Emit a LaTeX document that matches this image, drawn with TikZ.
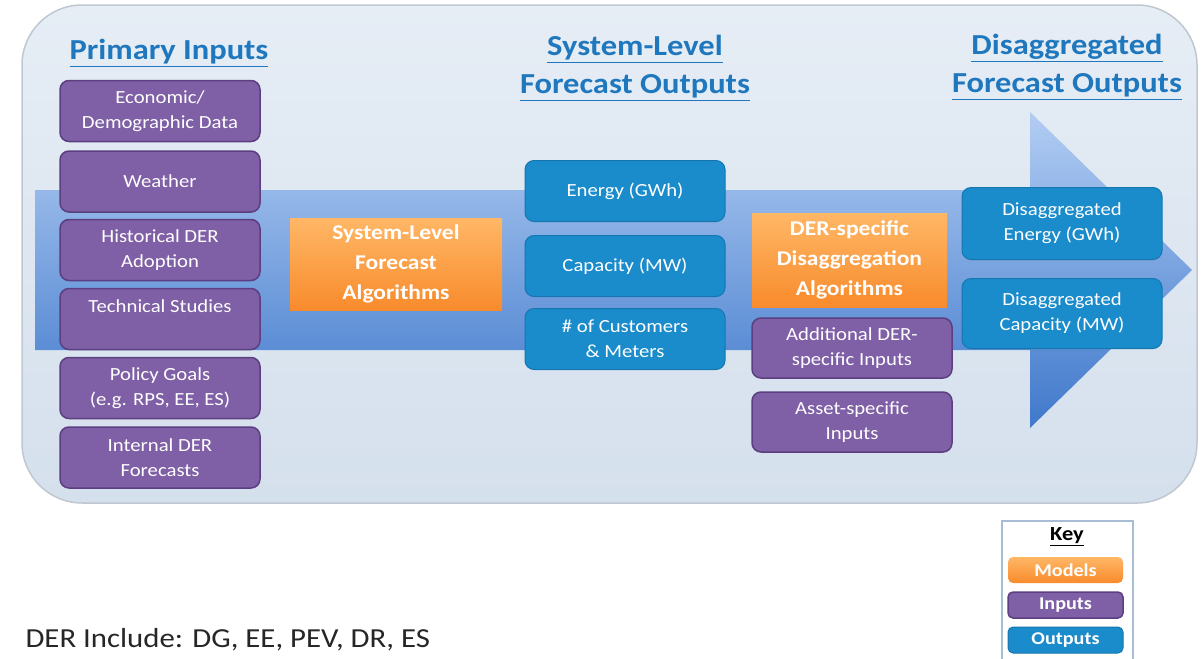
\documentclass[tikz,border=0pt]{standalone}
\usepackage{fontspec}
\setmainfont[FakeStretch=1.12]{Carlito}
\definecolor{titre}{HTML}{1F78BE}
\definecolor{fondclair}{HTML}{E6EDF5}
\definecolor{fondfonce}{HTML}{D5E0ED}
\definecolor{bordfond}{HTML}{BFC7D1}
\definecolor{flechehaut}{HTML}{B2CDF3}
\definecolor{flechebas}{HTML}{3F78CB}
\definecolor{violetfond}{HTML}{7F5FA5}
\definecolor{violetbord}{HTML}{5B3F80}
\definecolor{bleufond}{HTML}{1A8BCB}
\definecolor{bleubord}{HTML}{1677B0}
\definecolor{orangehaut}{HTML}{FFB766}
\definecolor{orangebas}{HTML}{F88B2C}
\definecolor{cadrecle}{HTML}{A9BCD6}

\begin{document}
\begin{tikzpicture}[x=1pt,y=-1pt]
\tikzstyle{titres}=[text=titre,align=center,font=\fontsize{29}{38}\selectfont\bfseries]
\tikzset{boite/.style={rounded corners=9pt,text=white,align=center,
  minimum width=200pt,minimum height=61pt,inner sep=2pt,
  font=\fontsize{18.5}{25}\selectfont},
entree/.style={boite,draw=violetbord,line width=1.5pt,fill=violetfond},
sortie/.style={boite,draw=bleubord,line width=1pt,fill=bleufond},
modele/.style={boite,rounded corners=0pt,top color=orangehaut,bottom color=orangebas,
  font=\fontsize{21}{30}\selectfont\bfseries},
cle/.style={rounded corners=5pt,text=white,minimum width=115pt,minimum height=26pt,
  inner sep=0pt,font=\fontsize{18}{20}\selectfont\bfseries,#1},
cle/.default={}}
\useasboundingbox (0,0) rectangle (1203,659);

% fond et grande fleche
\shade[top color=fondclair,bottom color=fondfonce,draw=bordfond,line width=1.5pt,
  rounded corners=60pt] (22,5) rectangle (1197,503);
\shade[top color=flechehaut,bottom color=flechebas] (35,190) -- (1030,190) -- (1030,112)
  -- (1192,270) -- (1030,428) -- (1030,350) -- (35,350) -- cycle;

% titres
\node[titres] (T1) at (169,53) {\underline{Primary Inputs}};
\node[titres] (T2) at (635,68) {\underline{System-Level}\\\underline{Forecast Outputs}};
\node[titres] (T3) at (1067,67) {\underline{Disaggregated}\\\underline{Forecast Outputs}};

% entrees
\node[entree] (E1) at (160,111) {Economic/\\Demographic Data};
\node[entree] (E2) at (160,181.5) {Weather};
\node[entree] (E3) at (160,250) {Historical DER\\Adoption};
\node[entree] (E4) at (160,319) {Technical Studies\\\mbox{}};
\node[entree] (E5) at (160,388) {Policy Goals\\(e.g. RPS, EE, ES)};
\node[entree] (E6) at (160,457.5) {Internal DER\\Forecasts};

\node[modele,minimum width=212pt,minimum height=92pt] (M1) at (396,264)
  {System-Level\\Forecast\\Algorithms};

\node[sortie] (S1) at (625,191) {Energy (GWh)};
\node[sortie] (S2) at (625,266) {Capacity (MW)};
\node[sortie] (S3) at (625,339) {\# of Customers\\\& Meters};

\node[modele,minimum width=195pt,minimum height=94pt] (M2) at (849.5,260)
  {DER-specific\\Disaggregation\\Algorithms};
\node[entree,minimum height=60pt] (E7) at (852,348) {Additional DER-\\specific Inputs};
\node[entree,minimum height=60pt] (E8) at (852,422) {Asset-specific\\Inputs};

\node[sortie,minimum height=72pt] (S4) at (1062,223.5) {Disaggregated\\Energy (GWh)};
\node[sortie,minimum height=70pt] (S5) at (1062,313.5) {Disaggregated\\Capacity (MW)};

% legende
\draw[cadrecle,line width=1.5pt] (1002,521) rectangle (1133,672);
\node[font=\fontsize{20}{22}\selectfont\bfseries] (K) at (1067,537) {\underline{Key}};
\node[cle={top color=orangehaut,bottom color=orangebas}] (K1) at (1065.5,570) {Models};
\node[cle={fill=violetfond,draw=violetbord,line width=1.5pt}] (K2) at (1065.5,605) {Inputs};
\node[cle={fill=bleufond,draw=bleubord,line width=1pt}] (K3) at (1065.5,640) {Outputs};

\node[anchor=west,text=black!85,font=\fontsize{27.5}{30}\selectfont] (N) at (22,640)
  {DER Include: DG, EE, PEV, DR, ES};

\end{tikzpicture}
\end{document}
